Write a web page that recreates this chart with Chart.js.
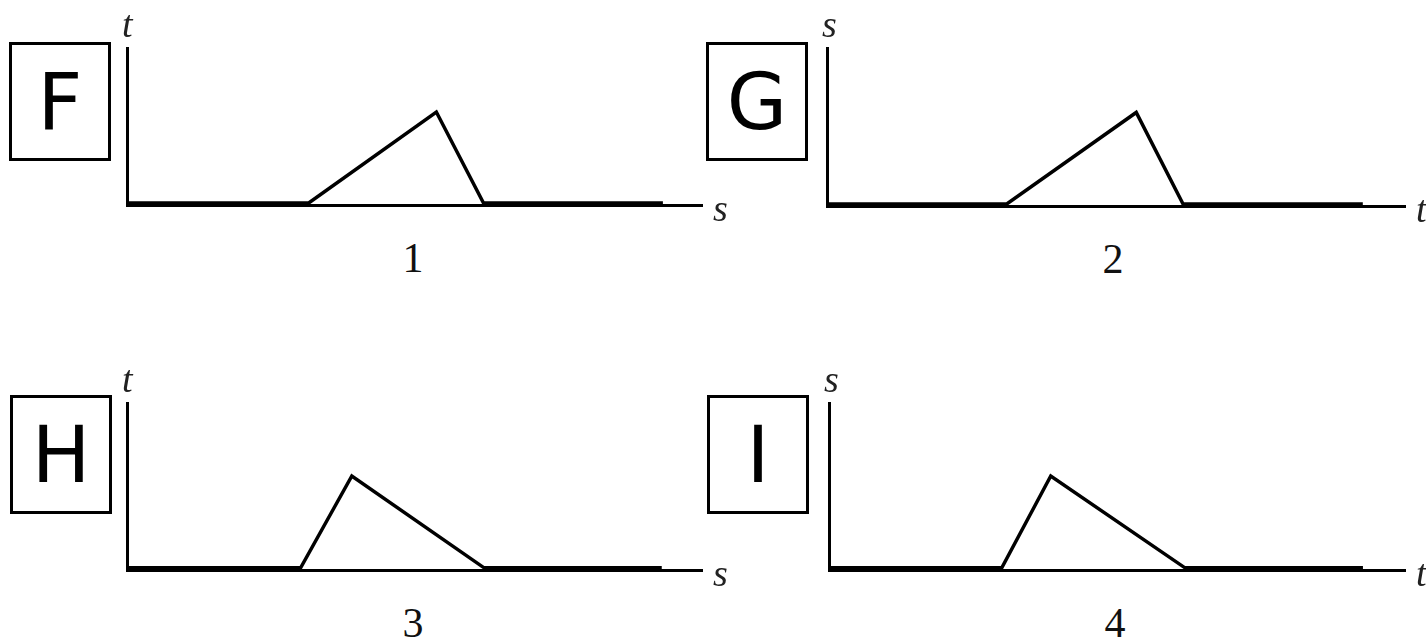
<!DOCTYPE html>
<html>
<head>
<meta charset="utf-8">
<script src="https://cdn.jsdelivr.net/npm/chart.js@4/dist/chart.umd.min.js"></script>
<style>
  body { margin: 0; background: #fff; width: 1426px; height: 637px; position: relative; overflow: hidden; }
  .box { position: absolute; border: 3px solid #000; box-sizing: border-box;
         font-family: "DejaVu Sans", sans-serif; font-size: 78px; color: #000;
         display: flex; align-items: center; justify-content: center; line-height: 1; }
  .lbl { position: absolute; font-family: "Liberation Serif", serif; font-style: italic;
         font-size: 38px; line-height: 38px; color: #222; }
  .num { position: absolute; font-family: "Liberation Serif", serif; font-size: 42px;
         line-height: 42px; color: #111; width: 60px; text-align: center; }
  canvas { position: absolute; }
</style>
</head>
<body>
<script>
// x positions of the bends, as % of the horizontal axis length
const xF = [0, 31.6, 53.8, 62.0, 93.2];
const yF = [1.3, 1.3, 59.2, 1.3, 1.3];

const xG = [0, 31.1, 53.5, 61.6, 92.7];
const yG = [1.3, 1.3, 59.2, 1.3, 1.3];

const xH = [0, 30.2, 39.1, 62.1, 93.0];
const yH = [1.3, 1.3, 56.3, 1.3, 1.3];

const xI = [0, 30.0, 38.5, 61.8, 92.7];
const yI = [1.3, 1.3, 56.3, 1.3, 1.3];

const letters = ['F', 'G', 'H', 'I'];
const numbers = ['1', '2', '3', '4'];
const xAxisNames = ['s', 't', 's', 't'];
const yAxisNames = ['t', 's', 't', 's'];

// panel geometry (plot area in page pixels)
const panels = [
  { xs: xF, ys: yF, left: 127, right: 702, top: 48, bottom: 205, box: [9, 42, 102, 119] },
  { xs: xG, ys: yG, left: 827, right: 1405, top: 48, bottom: 206, box: [706, 42, 102, 119] },
  { xs: xH, ys: yH, left: 127, right: 702, top: 403, bottom: 570, box: [10, 395, 102, 119] },
  { xs: xI, ys: yI, left: 829, right: 1405, top: 403, bottom: 570, box: [707, 395, 102, 119] }
];

const PAD = 20;

function addDiv(cls, text, css) {
  const d = document.createElement('div');
  d.className = cls;
  d.textContent = text;
  Object.assign(d.style, css);
  document.body.appendChild(d);
  return d;
}

panels.forEach(function (p, i) {
  const w = p.right - p.left;
  const h = p.bottom - p.top;

  const canvas = document.createElement('canvas');
  canvas.width = w + PAD * 2;
  canvas.height = h + PAD * 2;
  canvas.style.left = (p.left - PAD) + 'px';
  canvas.style.top = (p.top - PAD) + 'px';
  document.body.appendChild(canvas);

  const pts = p.xs.map(function (x, k) { return { x: x, y: p.ys[k] }; });

  new Chart(canvas.getContext('2d'), {
    type: 'line',
    data: {
      datasets: [{
        data: pts,
        borderColor: '#000',
        borderWidth: 3.5,
        pointRadius: 0,
        tension: 0,
        fill: false
      }]
    },
    options: {
      responsive: false,
      animation: false,
      devicePixelRatio: 1,
      layout: { padding: PAD },
      plugins: { legend: { display: false }, tooltip: { enabled: false } },
      scales: {
        x: {
          type: 'linear', min: 0, max: 100,
          ticks: { display: false },
          grid: { display: false, drawTicks: false },
          border: { display: true, color: '#000', width: 3 }
        },
        y: {
          type: 'linear', min: 0, max: 100,
          ticks: { display: false },
          grid: { display: false, drawTicks: false },
          border: { display: true, color: '#000', width: 3 }
        }
      }
    }
  });

  // boxed letter
  addDiv('box', letters[i], {
    left: p.box[0] + 'px', top: p.box[1] + 'px',
    width: p.box[2] + 'px', height: p.box[3] + 'px'
  });

  // axis names
  addDiv('lbl', yAxisNames[i], { left: (p.left - 5) + 'px', top: (p.top - 43) + 'px' });
  addDiv('lbl', xAxisNames[i], { left: (p.right + 11) + 'px', top: (p.bottom - 16) + 'px' });

  // panel number
  addDiv('num', numbers[i], { left: (p.left + 256) + 'px', top: (p.bottom + 32) + 'px' });
});
</script>
</body>
</html>
